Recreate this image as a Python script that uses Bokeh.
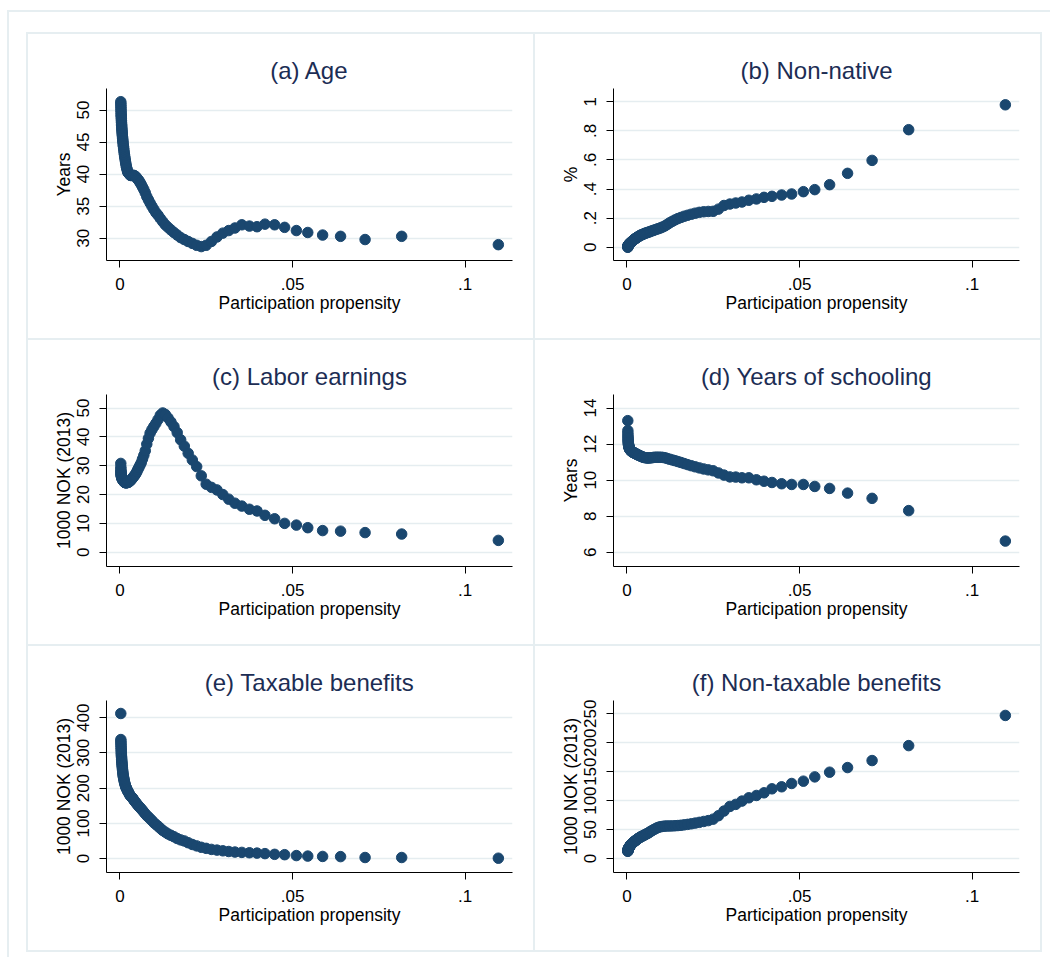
from bokeh.plotting import figure
from bokeh.layouts import row, column
from bokeh.models import Range1d, FixedTicker, Spacer, CustomJSTickFormatter
from bokeh.embed import file_html
from bokeh.resources import INLINE

# ---------------- data ----------------
propensity = [
    0.00024, 0.00026, 0.00027, 0.00029, 0.00030, 0.00032, 0.00034, 0.00035, 0.00037, 0.00039,
    0.00042, 0.00044, 0.00047, 0.00049, 0.00052, 0.00055, 0.00058, 0.00062, 0.00065, 0.00069,
    0.00073, 0.00077, 0.00081, 0.00086, 0.00091, 0.00096, 0.00102, 0.00108, 0.00114, 0.00121,
    0.00128, 0.00136, 0.00144, 0.00153, 0.00162, 0.00171, 0.00181, 0.00192, 0.00204, 0.00216,
    0.00229, 0.00243, 0.00257, 0.00273, 0.00289, 0.00306, 0.00324, 0.00344, 0.00364, 0.00386,
    0.00410, 0.00434, 0.00460, 0.00488, 0.00517, 0.00548, 0.00581, 0.00615, 0.00652, 0.00691,
    0.00733, 0.00777, 0.00824, 0.00873, 0.00925, 0.00981, 0.01040, 0.01102, 0.01168, 0.01238,
    0.01313, 0.01392, 0.01476, 0.01564, 0.01658, 0.01758, 0.01864, 0.01976, 0.02096, 0.02222,
    0.02355, 0.02497, 0.02650, 0.0281, 0.0298, 0.0315, 0.0333, 0.0353, 0.0375, 0.0397,
    0.0420, 0.0448, 0.0477, 0.0511, 0.0544, 0.0587, 0.0639, 0.0710, 0.0816, 0.1096,
]

age = [
    51.3, 51.0, 50.7, 50.4, 50.1, 49.8, 49.5, 49.2, 49.0, 48.7,
    48.4, 48.1, 47.8, 47.6, 47.3, 47.1, 46.8, 46.6, 46.3, 46.1,
    45.8, 45.6, 45.3, 45.1, 44.8, 44.5, 44.3, 44.0, 43.7, 43.4,
    43.1, 42.8, 42.5, 42.2, 41.9, 41.6, 41.3, 41.0, 40.8, 40.5,
    40.3, 40.2, 40.1, 40.0, 39.9, 39.8, 39.8, 39.8, 39.8, 39.8,
    39.8, 39.7, 39.6, 39.4, 39.2, 39.0, 38.7, 38.4, 38.0, 37.6,
    37.1, 36.5, 36.0, 35.5, 35.0, 34.5, 34.0, 33.6, 33.1, 32.6,
    32.1, 31.7, 31.3, 30.9, 30.5, 30.1, 29.8, 29.5, 29.2, 28.9,
    28.7, 28.9, 29.5, 30.2, 30.8, 31.2, 31.6, 32.1, 31.9, 31.8,
    32.2, 32.1, 31.7, 31.2, 30.9, 30.5, 30.3, 29.8, 30.3, 29.0,
]

non_native = [
    0.000, 0.002, 0.004, 0.006, 0.008, 0.009, 0.010, 0.011, 0.012, 0.013,
    0.014, 0.015, 0.016, 0.017, 0.018, 0.019, 0.020, 0.021, 0.022, 0.023,
    0.024, 0.025, 0.026, 0.027, 0.028, 0.029, 0.030, 0.032, 0.033, 0.035,
    0.037, 0.039, 0.040, 0.042, 0.044, 0.046, 0.048, 0.050, 0.052, 0.055,
    0.057, 0.059, 0.062, 0.064, 0.067, 0.070, 0.072, 0.075, 0.078, 0.082,
    0.084, 0.086, 0.089, 0.092, 0.095, 0.098, 0.100, 0.103, 0.106, 0.110,
    0.113, 0.117, 0.121, 0.125, 0.129, 0.134, 0.140, 0.147, 0.157, 0.168,
    0.178, 0.188, 0.197, 0.205, 0.213, 0.220, 0.227, 0.234, 0.240, 0.244,
    0.246, 0.247, 0.262, 0.287, 0.297, 0.304, 0.311, 0.323, 0.332, 0.343,
    0.350, 0.359, 0.366, 0.382, 0.396, 0.430, 0.508, 0.597, 0.808, 0.979,
]

labor_earnings = [
    30.8, 29.5, 28.7, 28.2, 27.8, 27.5, 27.2, 27.0, 26.8, 26.6,
    26.4, 26.3, 26.1, 26.0, 25.9, 25.8, 25.7, 25.6, 25.5, 25.4,
    25.3, 25.2, 25.1, 25.0, 24.9, 24.8, 24.7, 24.6, 24.5, 24.4,
    24.3, 24.3, 24.2, 24.2, 24.1, 24.1, 24.1, 24.1, 24.2, 24.2,
    24.2, 24.3, 24.4, 24.5, 24.7, 24.9, 25.1, 25.4, 25.7, 26.1,
    26.4, 26.8, 27.3, 27.9, 28.7, 29.4, 30.2, 31.0, 32.3, 33.6,
    35.2, 37.5, 39.5, 41.3, 42.5, 43.6, 44.7, 46.0, 47.5, 48.3,
    47.8, 46.6, 45.2, 43.6, 41.5, 39.0, 36.8, 34.3, 32.0, 29.7,
    26.5, 23.6, 22.5, 21.6, 20.0, 18.4, 17.0, 16.0, 14.9, 14.3,
    12.8, 11.6, 10.0, 9.4, 8.5, 7.5, 7.3, 6.8, 6.3, 4.1,
]

schooling = [
    13.30, 12.75, 12.60, 12.48, 12.38, 12.30, 12.23, 12.17, 12.12, 12.07,
    12.02, 11.98, 11.95, 11.92, 11.89, 11.86, 11.84, 11.82, 11.80, 11.78,
    11.76, 11.74, 11.72, 11.70, 11.68, 11.67, 11.66, 11.65, 11.63, 11.62,
    11.60, 11.59, 11.58, 11.57, 11.56, 11.55, 11.54, 11.53, 11.52, 11.50,
    11.49, 11.48, 11.46, 11.45, 11.43, 11.41, 11.40, 11.38, 11.36, 11.34,
    11.32, 11.30, 11.28, 11.26, 11.25, 11.24, 11.23, 11.23, 11.23, 11.24,
    11.25, 11.26, 11.27, 11.27, 11.27, 11.27, 11.26, 11.24, 11.20, 11.16,
    11.12, 11.08, 11.03, 10.98, 10.92, 10.86, 10.80, 10.74, 10.68, 10.62,
    10.57, 10.52, 10.40, 10.28, 10.18, 10.17, 10.13, 10.13, 10.02, 9.94,
    9.87, 9.80, 9.76, 9.76, 9.65, 9.54, 9.28, 8.99, 8.31, 6.62,
]

taxable_benefits = [
    412, 338, 333, 328, 323, 318, 313, 308, 303, 298,
    294, 290, 286, 282, 278, 274, 270, 266, 262, 258,
    254, 250, 246, 242, 238, 234, 231, 228, 225, 222,
    218, 215, 212, 209, 206, 203, 201, 199, 196, 193,
    191, 189, 186, 183, 180, 178, 176, 174, 172, 169,
    165, 162, 159, 155, 152, 148, 145, 141, 137, 132,
    127, 122, 118, 113, 108, 102, 97, 92, 86, 80,
    75, 70, 66, 62, 57, 53, 50, 45, 40, 36,
    32, 29, 26, 24, 22, 20, 18.5, 17.5, 16.5, 15.5,
    14, 12, 11, 8.5, 7, 6, 5.5, 3, 3, 1,
]

non_taxable_benefits = [
    12.5, 13.0, 13.5, 14.0, 14.4, 14.8, 15.2, 15.6, 16.0, 16.3,
    16.6, 17.0, 17.3, 17.7, 18.0, 18.4, 18.7, 19.1, 19.5, 19.9,
    20.3, 20.7, 21.1, 21.5, 21.9, 22.3, 22.8, 23.3, 23.8, 24.3,
    24.8, 25.3, 25.8, 26.3, 26.8, 27.3, 27.8, 28.4, 29.0, 29.6,
    30.2, 30.8, 31.5, 32.2, 33.0, 33.8, 34.5, 35.3, 36.0, 37.0,
    37.7, 38.4, 39.2, 40.0, 41.0, 42.0, 43.0, 44.0, 45.5, 47.0,
    48.5, 50.0, 51.5, 53.0, 54.2, 55.0, 55.6, 56.0, 56.2, 56.3,
    56.4, 56.6, 57.0, 57.5, 58.2, 59.0, 60.0, 61.2, 62.5, 64.0,
    65.5, 68.0, 74.0, 82.0, 90.0, 93.5, 99.2, 104.9, 108.9, 113.5,
    120.4, 123.9, 129.6, 133.6, 141.0, 149.1, 157.1, 169.2, 195.0, 247.1,
]

titles = ["(a) Age", "(b) Non-native", "(c) Labor earnings",
          "(d) Years of schooling", "(e) Taxable benefits", "(f) Non-taxable benefits"]
y_labels = ["Years", "%", "1000 NOK (2013)", "Years", "1000 NOK (2013)", "1000 NOK (2013)"]
x_label = "Participation propensity"
x_ticks = [0, 0.05, 0.1]
y_ticks_age = [30, 35, 40, 45, 50]
y_ticks_native = [0, 0.2, 0.4, 0.6, 0.8, 1]
y_ticks_earn = [0, 10, 20, 30, 40, 50]
y_ticks_school = [6, 8, 10, 12, 14]
y_ticks_tax = [0, 100, 200, 300, 400]
y_ticks_nontax = [0, 50, 100, 150, 200, 250]

# ---------------- styling ----------------
FONT = "Liberation Sans"
NAVY = "#1a476f"
TITLE_C = "#1c2d54"
GRID_C = "#e5edf0"
BORDER_C = "#e6eef1"
FIG_W, FIG_H = 505, 304


def make_panel(title, yvals, ylabel, yrange, yticks):
    p = figure(width=FIG_W, height=FIG_H,
               x_range=Range1d(-0.0039, 0.1137), y_range=Range1d(*yrange),
               output_backend="svg", toolbar_location=None,
               min_border_left=78, min_border_right=21,
               min_border_top=54, min_border_bottom=78,
               background_fill_color="white", border_fill_color="white",
               outline_line_color=None)
    p.title.text = title
    p.title.align = "center"
    p.title.text_font = FONT
    p.title.text_font_size = "24px"
    p.title.text_font_style = "normal"
    p.title.text_color = TITLE_C
    p.title.standoff = 9

    fmt = CustomJSTickFormatter(code="return String(tick).replace(/^0\\./, '.');")

    p.xaxis.ticker = FixedTicker(ticks=x_ticks)
    p.yaxis.ticker = FixedTicker(ticks=yticks)
    p.ygrid.ticker = FixedTicker(ticks=yticks)
    p.xaxis.formatter = fmt
    p.yaxis.formatter = fmt
    p.xaxis.axis_label = x_label
    p.yaxis.axis_label = ylabel
    for ax in (p.xaxis[0], p.yaxis[0]):
        ax.axis_line_color = "black"
        ax.axis_line_width = 1
        ax.major_tick_line_color = "black"
        ax.major_tick_line_width = 1
        ax.major_tick_in = 0
        ax.major_tick_out = 7
        ax.minor_tick_line_color = None
        ax.major_label_text_font = FONT
        ax.major_label_text_font_size = "17px"
        ax.major_label_text_color = "black"
        ax.axis_label_text_font = FONT
        ax.axis_label_text_font_size = "17.5px"
        ax.axis_label_text_font_style = "normal"
        ax.axis_label_text_color = "black"
    p.yaxis.major_label_orientation = "vertical"
    p.xaxis.major_label_standoff = 10
    p.xaxis.axis_label_standoff = 0
    p.yaxis.major_label_standoff = 10
    p.yaxis.axis_label_standoff = 1

    p.xgrid.visible = False
    p.ygrid.grid_line_color = GRID_C
    p.ygrid.grid_line_width = 1.6

    p.scatter(propensity, yvals, size=10.5, marker="circle",
              fill_color=NAVY, line_color=NAVY)
    return p


panels = [
    make_panel(titles[0], age, y_labels[0], (26.53, 53.36), y_ticks_age),
    make_panel(titles[1], non_native, y_labels[1], (-0.091, 1.091), y_ticks_native),
    make_panel(titles[2], labor_earnings, y_labels[2], (-4.96, 54.71), y_ticks_earn),
    make_panel(titles[3], schooling, y_labels[3], (5.21, 14.75), y_ticks_school),
    make_panel(titles[4], taxable_benefits, y_labels[4], (-39.6, 448.9), y_ticks_tax),
    make_panel(titles[5], non_taxable_benefits, y_labels[5], (-24.1, 272.9), y_ticks_nontax),
]


def hline(w):
    return Spacer(width=w, height=2, styles={"background-color": BORDER_C})


def vline(h):
    return Spacer(width=2, height=h, styles={"background-color": BORDER_C})


GRID_W = 2 + FIG_W + 2 + FIG_W + 2
rows = [row(vline(FIG_H), panels[2 * i], vline(FIG_H), panels[2 * i + 1], vline(FIG_H))
        for i in range(3)]
grid = column(hline(GRID_W), rows[0], hline(GRID_W), rows[1],
              hline(GRID_W), rows[2], hline(GRID_W))

inner = column(
    hline(1043),
    row(vline(945), Spacer(width=17, height=2),
        column(Spacer(width=GRID_W, height=20), grid)),
)
page = column(Spacer(width=1050, height=10), row(Spacer(width=7, height=2), inner))

open("out.html", "w").write(file_html(page, INLINE))
